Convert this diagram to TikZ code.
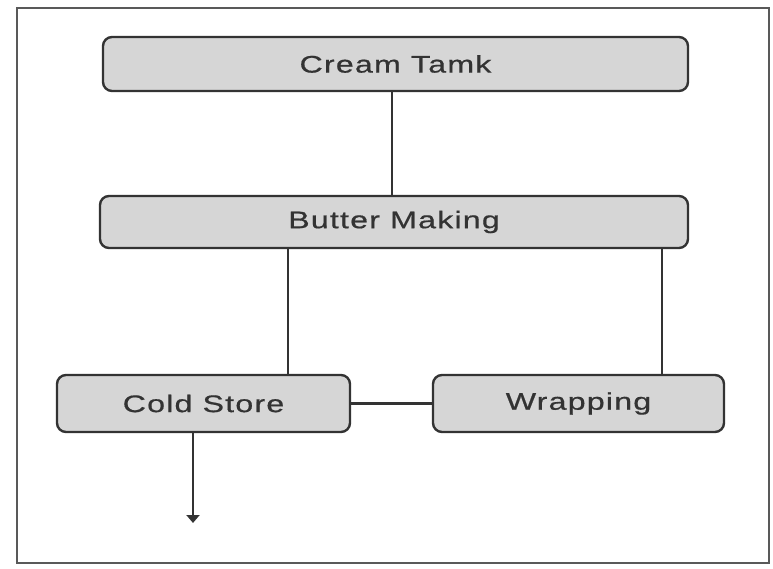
\documentclass[tikz,border=0pt]{standalone}
\usepackage{fontspec}
\setmainfont{Liberation Sans}
\newfontfamily\widefont[FakeStretch=1.34,LetterSpace=5,FakeBold=0.6]{Liberation Sans}
\usetikzlibrary{arrows.meta}
\definecolor{boxfill}{HTML}{D6D6D6}
\definecolor{boxline}{HTML}{333333}
\definecolor{txt}{HTML}{333333}
\begin{document}
\begin{tikzpicture}[x=1pt,y=-1pt,
  stepbox/.style={draw=boxline,fill=boxfill,line width=2.4pt,rounded corners=9pt,
    minimum height=54pt,inner sep=0pt,text=txt,font=\widefont\fontsize{24}{28}\selectfont},
  link/.style={draw=boxline,line width=2.8pt}]
\useasboundingbox (0,0) rectangle (773,569);
\draw[draw=gray!70!black,line width=1.6pt] (17,8) rectangle (769,563);
\node[stepbox,minimum width=585pt] (cream) at (395.5,64) {Cream Tamk};
\node[stepbox,minimum width=588pt,minimum height=52pt] (butter) at (394,222) {Butter Making};
\node[stepbox,minimum width=293pt,minimum height=57pt] (cold) at (203.5,403.5) {Cold Store};
\node[stepbox,minimum width=291pt,minimum height=57pt] (wrap) at (578.5,403.5) {Wrapping};
\draw[link] (cream.south -| 392,0) -- (butter.north -| 392,0);
\draw[link] (butter.south -| 288,0) -- (cold.north -| 288,0);
\draw[link] (butter.south -| 662,0) -- (wrap.north -| 662,0);
\draw[link] (cold.east) -- (wrap.west);
\coordinate (out) at (193,523);
\draw[link,-{Triangle[length=8pt,width=13pt]}] (cold.south -| out) -- (out);
\end{tikzpicture}
\end{document}
